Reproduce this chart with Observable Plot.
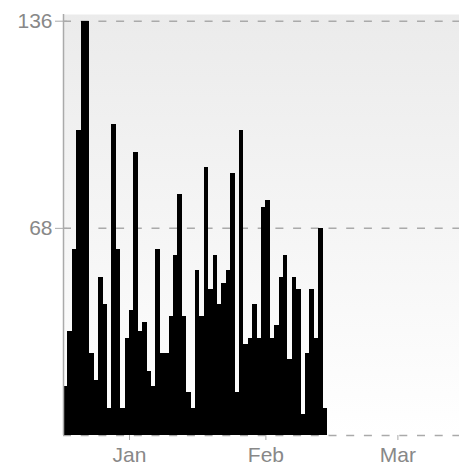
<!DOCTYPE html>
<html>
<head>
<meta charset="utf-8">
<script src="https://cdn.jsdelivr.net/npm/d3@7"></script>
<script src="https://cdn.jsdelivr.net/npm/@observablehq/plot@0.6"></script>
<style>
  html, body { margin: 0; padding: 0; background: #fff; }
</style>
</head>
<body>
<div id="chart"></div>
<script>
// ---- data ----
const startDate = "2011-12-17";
const endDate = "2012-03-16";
const dailyValues = [
  16, 34, 61, 100, 136, 136, 27, 18, 52, 43,
  9, 102, 61, 9, 32, 41, 93, 34, 37, 21,
  16, 61, 27, 27, 39, 59, 79, 39, 14, 9,
  54, 39, 88, 48, 59, 43, 50, 54, 86, 14,
  100, 30, 32, 43, 32, 75, 77, 32, 36, 52,
  59, 25, 52, 48, 7, 27, 48, 32, 68, 9
];
const yTicks = [68, 136];
const xTickDates = ["2012-01-01", "2012-02-01", "2012-03-02"];
const xTickLabels = ["Jan", "Feb", "Mar"];

// ---- build table ----
const start = new Date(startDate + "T00:00:00Z");
const end = new Date(endDate + "T00:00:00Z");
const data = dailyValues.map((v, i) => ({
  start: d3.utcDay.offset(start, i),
  end: d3.utcDay.offset(start, i + 1),
  value: v
}));
const tickDates = xTickDates.map(s => new Date(s + "T00:00:00Z"));
const labelOf = new Map(tickDates.map((d, i) => [+d, xTickLabels[i]]));

const chart = Plot.plot({
  width: 459,
  height: 466,
  marginLeft: 63,
  marginRight: 0,
  marginTop: 14,
  marginBottom: 31,
  style: {
    fontFamily: "'Liberation Sans', Arial, sans-serif",
    fontSize: "21px",
    color: "#888",
    background: "white"
  },
  x: { type: "utc", domain: [start, end] },
  y: { domain: [0, 138.2] },
  marks: [
    Plot.frame({ fill: "url(#bgGrad)", stroke: null }),
    Plot.ruleY([0, ...yTicks], { stroke: "#aaa", strokeWidth: 1.5, strokeDasharray: "8,9.7" }),
    Plot.rectY(data, { x1: "start", x2: "end", y: "value", fill: "black", inset: 0, shapeRendering: "crispEdges" }),
    Plot.ruleX([start], { stroke: "#aaa", strokeWidth: 1.5 }),
    Plot.axisY({ ticks: yTicks, tickSize: 12, dx: 4, tickPadding: 3, label: null, stroke: "#aaa" }),
    Plot.axisX({ ticks: tickDates, tickFormat: d => labelOf.get(+d), tickSize: 5, tickPadding: 7, label: null, stroke: "#aaa" })
  ]
});

const svg = chart.tagName.toLowerCase() === "svg" ? chart : chart.querySelector("svg");
const defs = document.createElementNS("http://www.w3.org/2000/svg", "defs");
defs.innerHTML = '<linearGradient id="bgGrad" x1="0" y1="0" x2="0" y2="1">' +
  '<stop offset="0" stop-color="#ebebeb"/>' +
  '<stop offset="1" stop-color="#ffffff"/>' +
  '</linearGradient>';
svg.insertBefore(defs, svg.firstChild);
document.getElementById("chart").appendChild(chart);
</script>
</body>
</html>
